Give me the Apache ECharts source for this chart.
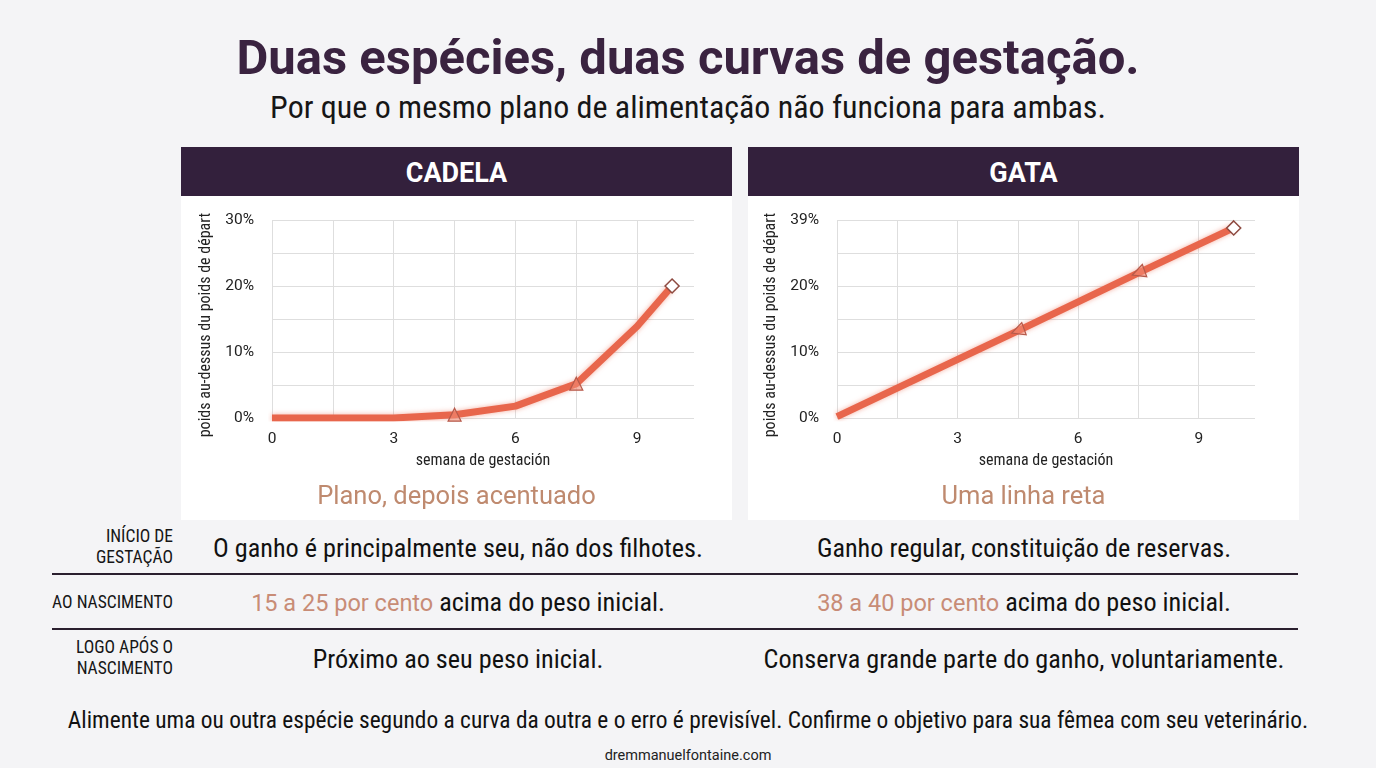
<!DOCTYPE html>
<html>
<head>
<meta charset="utf-8">
<script src="https://cdn.jsdelivr.net/npm/echarts@6/dist/echarts.min.js"></script>
<style>
  html,body{margin:0;padding:0;}
  body{width:1376px;height:768px;background:#f4f4f6;position:relative;overflow:hidden;font-family:Roboto,sans-serif;color:#141414;}
  .abs{position:absolute;}
  .cond{font-family:"Roboto Condensed","Liberation Sans Narrow","Arial Narrow","DejaVu Sans Condensed",Roboto,sans-serif;font-stretch:condensed;}
  .ctr{left:0;width:1376px;text-align:center;transform:translateY(-50%);white-space:nowrap;}
  #title{top:57px;font-size:49px;font-weight:700;color:#3a2340;}
  #subtitle{top:107px;font-size:32px;color:#161616;}
  .panel{position:absolute;top:147px;width:551px;height:373px;background:#ffffff;}
  .phead{position:absolute;left:0;top:0;width:100%;height:49px;background:#33203c;color:#fff;font-weight:700;font-size:27px;line-height:52px;text-align:center;}
  .chart{position:absolute;left:0;top:49px;width:551px;height:290px;}
  .cap{position:absolute;left:0;width:100%;top:348px;transform:translateY(-50%);text-align:center;font-size:25.5px;color:#bf8a6f;}
  .rlab{position:absolute;right:1203px;text-align:right;font-size:17.5px;line-height:21px;transform:translateY(-50%);white-space:nowrap;color:#161616;}
  .rtxt{position:absolute;width:600px;text-align:center;font-size:26.2px;transform:translateY(-50%);white-space:nowrap;color:#111;}
  .hl{color:#c88c76;font-family:Roboto,sans-serif;font-stretch:normal;font-size:23.5px;}
  .sep{position:absolute;left:52px;width:1246px;height:2px;background:#2a1f2e;}
</style>
</head>
<body>
<div id="title" class="abs ctr">Duas espécies, duas curvas de gestação.</div>
<div id="subtitle" class="abs ctr cond">Por que o mesmo plano de alimentação não funciona para ambas.</div>

<div class="panel" style="left:181px;">
  <div class="phead">CADELA</div>
  <div id="dogChart" class="chart"></div>
  <div class="cap">Plano, depois acentuado</div>
</div>
<div class="panel" style="left:748px;">
  <div class="phead">GATA</div>
  <div id="catChart" class="chart"></div>
  <div class="cap">Uma linha reta</div>
</div>

<div class="rlab cond" style="top:547px;">INÍCIO DE<br>GESTAÇÃO</div>
<div class="rtxt cond" style="left:158px;top:548px;">O ganho é principalmente seu, não dos filhotes.</div>
<div class="rtxt cond" style="left:724px;top:548px;">Ganho regular, constituição de reservas.</div>
<div class="sep" style="top:573px;"></div>

<div class="rlab cond" style="top:602px;">AO NASCIMENTO</div>
<div class="rtxt cond" style="left:158px;top:602px;"><span class="hl">15 a 25 por cento</span> acima do peso inicial.</div>
<div class="rtxt cond" style="left:724px;top:602px;"><span class="hl">38 a 40 por cento</span> acima do peso inicial.</div>
<div class="sep" style="top:628px;"></div>

<div class="rlab cond" style="top:658px;">LOGO APÓS O<br>NASCIMENTO</div>
<div class="rtxt cond" style="left:158px;top:659px;">Próximo ao seu peso inicial.</div>
<div class="rtxt cond" style="left:724px;top:659px;">Conserva grande parte do ganho, voluntariamente.</div>

<div class="abs ctr cond" style="top:720px;font-size:23.4px;color:#111;">Alimente uma ou outra espécie segundo a curva da outra e o erro é previsível. Confirme o objetivo para sua fêmea com seu veterinário.</div>
<div class="abs ctr" style="top:755px;font-size:14.5px;color:#222;">dremmanuelfontaine.com</div>

<script>
// ---- data ----
const dogWeeks   = [0, 3, 4.5, 6, 7.5, 9, 9.86];
const dogGain    = [0, 0, 0.5, 1.8, 5.2, 13.9, 20];
const dogMarkers = ['none', 'none', 'triangle', 'none', 'triangle', 'none', 'diamond'];

const catWeeks   = [0, 4.5, 7.5, 9.87];
const catGain    = [0.2, 13.2, 22, 28.8];
const catMarkers = ['none', 'triangle', 'triangle', 'diamond'];

const xTickLabels    = {0: '0', 3: '3', 6: '6', 9: '9'};
const dogYTickLabels = {0: '0%', 10: '10%', 20: '20%', 30: '30%'};
const catYTickLabels = {0: '0%', 10: '10%', 20: '20%', 30: '39%'};

const xName = 'semana de gestación';
const yName = 'poids au-dessus du poids de départ';

const COND = "'Roboto Condensed','Liberation Sans Narrow','Arial Narrow','DejaVu Sans Condensed',Roboto,sans-serif";
const LINE = '#e8664c';

function buildData(weeks, gains, markers, rot) {
  return weeks.map((w, i) => {
    const m = markers[i];
    const item = { value: [w, gains[i]], symbol: m };
    if (m === 'triangle') {
      item.symbolSize = 13;
      item.symbolRotate = rot;
      item.itemStyle = { color: 'rgba(242,140,118,0.55)', borderColor: '#b65a4b', borderWidth: 1.2 };
    } else if (m === 'diamond') {
      item.symbolSize = 14;
      item.itemStyle = { color: '#ffffff', borderColor: '#8e4a40', borderWidth: 1.5 };
    }
    return item;
  });
}

function makeOption(weeks, gains, markers, yLabels, rot, gridLeft, gridWidth, yGap) {
  return {
    animation: false,
    grid: { left: gridLeft, top: 24, width: gridWidth, height: 198 },
    xAxis: {
      type: 'value', min: 0, max: 10.4, interval: 1.5,
      name: xName, nameLocation: 'middle', nameGap: 35,
      nameTextStyle: { fontFamily: COND, fontSize: 16, color: '#222' },
      axisLine: { show: false }, axisTick: { show: false },
      axisLabel: { fontFamily: 'Roboto', fontSize: 15.5, color: '#222', margin: 13,
        formatter: v => (xTickLabels[v] !== undefined ? xTickLabels[v] : '') },
      splitLine: { show: true, showMaxLine: false, lineStyle: { color: '#dedede', width: 1 } }
    },
    yAxis: {
      type: 'value', min: 0, max: 30, interval: 5,
      name: yName, nameLocation: 'middle', nameGap: yGap, nameRotate: 90,
      nameTextStyle: { fontFamily: COND, fontSize: 16, color: '#222', padding: [0, 12, 0, 0] },
      axisLine: { show: false }, axisTick: { show: false },
      axisLabel: { fontFamily: 'Roboto', fontSize: 15.5, color: '#222', margin: 18,
        formatter: v => (yLabels[v] !== undefined ? yLabels[v] : '') },
      splitLine: { show: true, lineStyle: { color: '#dedede', width: 1 } }
    },
    series: [{
      type: 'line',
      data: buildData(weeks, gains, markers, rot),
      showSymbol: true,
      showAllSymbol: true,
      lineStyle: { color: LINE, width: 7, shadowColor: 'rgba(236,110,84,0.55)', shadowBlur: 5 },
      itemStyle: { color: LINE },
      z: 3
    }]
  };
}

const dog = echarts.init(document.getElementById('dogChart'));
dog.setOption(makeOption(dogWeeks, dogGain, dogMarkers, dogYTickLabels, 0, 91, 422, 56));
const cat = echarts.init(document.getElementById('catChart'));
cat.setOption(makeOption(catWeeks, catGain, catMarkers, catYTickLabels, 110, 89, 418, 54));
</script>
</body>
</html>
